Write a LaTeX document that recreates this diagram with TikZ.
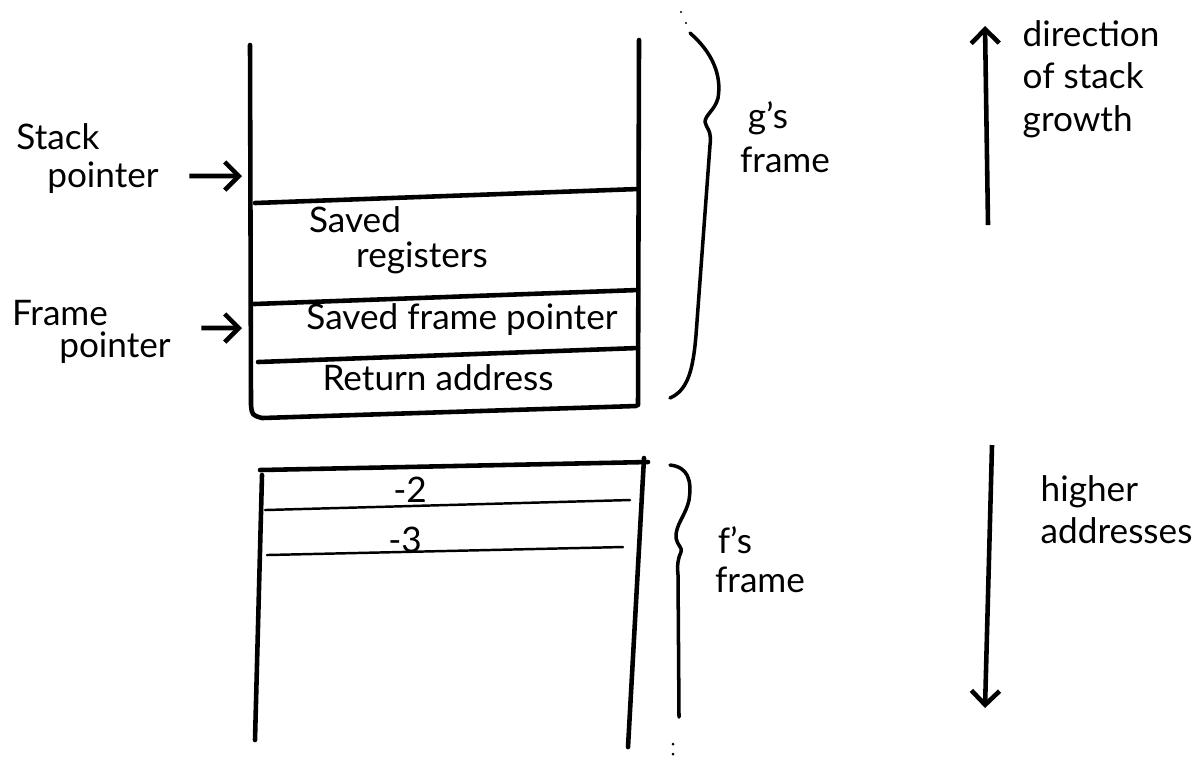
\documentclass[tikz,border=0pt]{standalone}
\usepackage{fontspec}
\setmainfont{Lato}
\usetikzlibrary{arrows.meta, positioning}

\begin{document}
\begin{tikzpicture}[
        x=0.01cm, y=-0.01cm,
        wallLine/.style={
            line width=1.3pt, line cap=round, line join=round
        },
        slotLine/.style={
            line width=0.7pt, line cap=round
        },
        braceLine/.style={
            line width=1pt, line cap=round, line join=round
        },
        handText/.style={
            inner sep=0pt, font=\fontsize{10}{12}\selectfont
        },
        arrow/.style={
            line width=1.3pt, -{Straight Barb[length=4pt, width=8pt]}
        }
    ]
        \useasboundingbox (0,0) rectangle (1192,759);

        % g's frame
        \draw [wallLine] (250,45) -- (251,405) .. controls (252,415) .. (262,418) -- (636,406);
        \draw [wallLine] (639,40) -- (638,405);
        \draw [wallLine] (255,203) -- (638,189);
        \draw [wallLine] (254,304) -- (638,290);
        \draw [wallLine] (258,362) -- (638,348);

        % f's frame
        \draw [wallLine] (260,470) -- (648,462);
        \draw [wallLine] (262,475) -- (255,740);
        \draw [wallLine] (644,458) -- (628,747);
        \draw [slotLine] (265,510) -- (630,500);
        \draw [slotLine] (267,555) -- (623,547);

        % Braces
        \draw [braceLine] (690,33) .. controls (712,52) and (722,75) .. (718,98)
            .. controls (715,110) and (705,115) .. (705,122)
            .. controls (706,128) and (712,130) .. (710,145) -- (696,335)
            .. controls (693,370) and (688,390) .. (670,398);
        \draw [braceLine] (670,465) .. controls (688,467) and (692,480) .. (689,500)
            .. controls (686,515) and (675,525) .. (676,538)
            .. controls (677,545) and (683,548) .. (681,552)
            .. controls (678,558) and (677,565) .. (678,575) -- (679,717);
        \fill (681,12) circle (1.2) (686,23) circle (1.2);
        \fill (673,744) circle (1.5) (673,754) circle (1.5);

        % Nodes
        \node (stackWord) [handText] at (58,137) {Stack};
        \node (stackPtr) [handText] at (103,178) {pointer};
        \node (frameWord) [handText] at (60,313) {Frame};
        \node (framePtr) [handText] at (115,348) {pointer};

        \node (savedWord) [handText] at (355,220) {Saved};
        \node (regsWord) [handText] at (422,258) {registers};
        \node (savedFp) [handText] at (462,320) {Saved frame pointer};
        \node (retAddr) [handText] at (438,378) {Return address};
        \node (slotTwo) [handText] at (410,490) {-2};
        \node (slotThree) [handText] at (405,540) {-3};

        \node (gName) [handText] at (768,118) {g's};
        \node (gFrame) [handText] at (785,160) {frame};
        \node (fName) [handText] at (735,540) {f's};
        \node (fFrame) [handText] at (760,580) {frame};

        \node (growText) [handText, align=left, anchor=north west] at (1022,20)
            {direction\\of stack\\growth};
        \node (highText) [handText, align=left, anchor=north west] at (1040,475)
            {higher\\addresses};

        \coordinate (spTip) at (242,176);
        \coordinate (fpTip) at (242,328);
        \coordinate (growTop) at (985,26);
        \coordinate (growBot) at (988,225);
        \coordinate (highTop) at (992,445);
        \coordinate (highBot) at (985,708);

        % Arrows
        \draw [arrow] ([xshift=0.3cm, yshift=0.02cm]stackPtr.east) -- (spTip);
        \draw [arrow] ([xshift=0.3cm, yshift=0.2cm]framePtr.east) -- (fpTip);
        \draw [arrow] (growBot) -- (growTop);
        \draw [arrow] (highTop) -- (highBot);
\end{tikzpicture}
\end{document}
